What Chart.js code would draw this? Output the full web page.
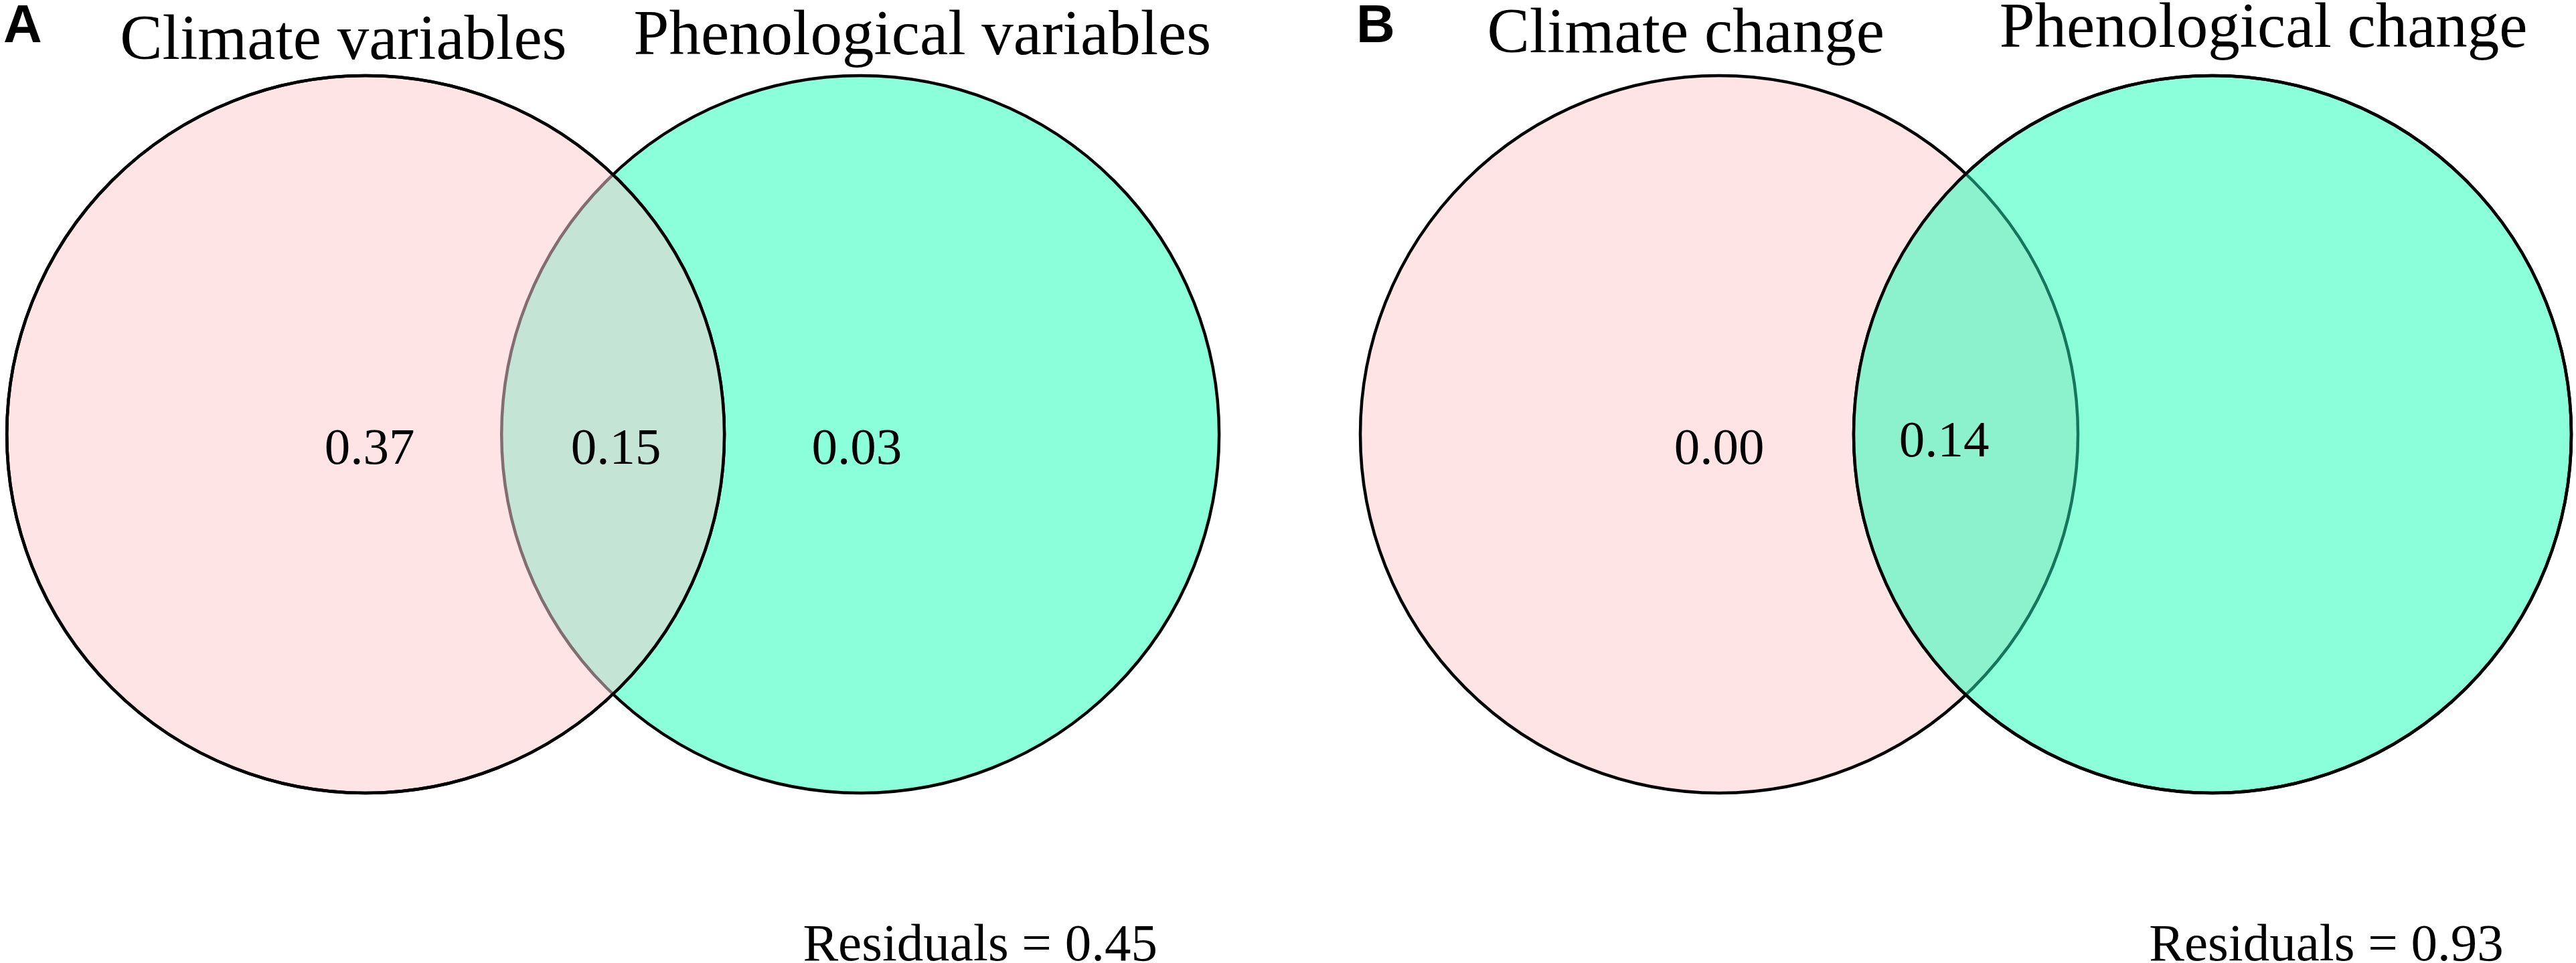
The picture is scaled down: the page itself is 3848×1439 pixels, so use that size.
<!DOCTYPE html>
<html>
<head>
<meta charset="utf-8">
<title>Venn diagrams</title>
<script src="https://cdn.jsdelivr.net/npm/chart.js@4.4.0/dist/chart.umd.min.js"></script>
<style>
  html, body { margin: 0; padding: 0; background: #fff; overflow: hidden; }
  .panel { position: absolute; top: 0; width: 1924px; height: 1439px; }
  #panelA { left: 0; }
  #panelB { left: 1924px; }
</style>
</head>
<body>
<div class="panel" id="panelA"><canvas id="chartA"></canvas></div>
<div class="panel" id="panelB"><canvas id="chartB"></canvas></div>

<script>
// ===== data =====
const panelLetters = ["A", "B"];
const setNamesA = ["Climate variables", "Phenological variables"];
const setNamesB = ["Climate change", "Phenological change"];
// regions: left only, shared, right only (null = not printed)
const regionValuesA = [0.37, 0.15, 0.03];
const regionValuesB = [0.0, 0.14, null];
const residualsA = 0.45;
const residualsB = 0.93;

// ===== layout (data units, 1 unit = circle radius) =====
const R = 1;
const layoutA = {
  xMin: -1.019, xMax: 2.571, yMin: -1.474, yMax: 1.211,
  centers: [[0, 0], [1.379, 0]],
  top: 0, // pink drawn over green
  titlePos: [[-0.062, 1.047], [1.552, 1.06]],
  labelPos: [[0.011, -0.082], [0.698, -0.082], [1.369, -0.082]],
  residualPos: [1.713, -1.466],
  overlapFill: "#c4e5d6",
  hiddenEdge: "rgb(128,110,112)",
};
const layoutB = {
  xMin: -1.2015, xMax: 2.388, yMin: -1.474, yMax: 1.211,
  centers: [[0, 0], [1.375, 0]],
  top: 1, // green drawn over pink
  titlePos: [[-0.093, 1.066], [1.517, 1.08]],
  labelPos: [[0, -0.082], [0.627, -0.0616], [1.375, -0.082]],
  residualPos: [1.692, -1.466],
  overlapFill: "#8cf2ce",
  hiddenEdge: "rgb(20,118,90)",
};

const fillColors = ["#ffe4e6", "#8bffda"];
const edgeWidth = 4.5;
const serif = '"Liberation Serif", "Times New Roman", serif';

// radius in pixels from the x scale
function radiusPx(ctx) {
  const s = ctx.chart.scales.x;
  return Math.abs(s.getPixelForValue(R) - s.getPixelForValue(0));
}

// lens of the two circles + edges hidden under the top circle
const vennOverlap = {
  id: "vennOverlap",
  afterDatasetsDraw(chart, args, opts) {
    const c = chart.ctx;
    const els = [0, 1].map((i) => chart.getDatasetMeta(i).data[0]);
    const top = els[opts.top];
    const bottom = els[1 - opts.top];
    c.save();
    c.beginPath();
    c.arc(top.x, top.y, top.options.radius, 0, Math.PI * 2);
    c.clip();
    c.beginPath();
    c.arc(bottom.x, bottom.y, bottom.options.radius, 0, Math.PI * 2);
    c.fillStyle = opts.fill;
    c.fill();
    c.lineWidth = edgeWidth;
    c.strokeStyle = opts.hiddenEdge;
    c.stroke();
    c.restore();
    // edge of top circle again
    c.save();
    c.beginPath();
    c.arc(top.x, top.y, top.options.radius, 0, Math.PI * 2);
    c.lineWidth = edgeWidth;
    c.strokeStyle = "#000";
    c.stroke();
    c.restore();
  },
};

// titles, region values, residuals, panel letter
const vennText = {
  id: "vennText",
  afterDraw(chart, args, opts) {
    const c = chart.ctx;
    const xs = chart.scales.x;
    const ys = chart.scales.y;
    const px = (p) => [xs.getPixelForValue(p[0]), ys.getPixelForValue(p[1])];
    c.save();
    c.fillStyle = "#000";
    c.textAlign = "center";
    c.textBaseline = "alphabetic";

    c.font = "95px " + serif;
    opts.names.forEach((n, i) => {
      const [x, y] = px(opts.layout.titlePos[i]);
      c.fillText(n, x, y);
    });

    c.font = "77px " + serif;
    opts.values.forEach((v, i) => {
      if (v === null) return;
      const [x, y] = px(opts.layout.labelPos[i]);
      c.fillText(v.toFixed(2), x, y);
    });

    c.font = "79px " + serif;
    const [rx, ry] = px(opts.layout.residualPos);
    c.fillText("Residuals = " + opts.residuals.toFixed(2), rx, ry);

    c.font = 'bold 80px "Liberation Sans", Arial, sans-serif';
    c.textAlign = "left";
    c.fillText(opts.letter, opts.letterX, 63);
    c.restore();
  },
};

function makeVenn(canvasId, names, values, residuals, letter, letterX, layout) {
  const datasets = layout.centers.map((cxy, i) => ({
    label: names[i],
    data: [{ x: cxy[0], y: cxy[1] }],
    backgroundColor: fillColors[i],
    borderColor: "#000",
    borderWidth: edgeWidth,
    pointStyle: "circle",
    pointRadius: radiusPx,
    pointHoverRadius: radiusPx,
    // top circle gets the lower order so it is drawn last
    order: i === layout.top ? 0 : 1,
    clip: false,
  }));

  return new Chart(document.getElementById(canvasId), {
    type: "scatter",
    data: { datasets },
    options: {
      responsive: true,
      maintainAspectRatio: false,
      animation: false,
      events: [],
      layout: { padding: 0 },
      scales: {
        x: { type: "linear", display: false, min: layout.xMin, max: layout.xMax },
        y: { type: "linear", display: false, min: layout.yMin, max: layout.yMax },
      },
      plugins: {
        legend: { display: false },
        tooltip: { enabled: false },
        vennOverlap: { top: layout.top, fill: layout.overlapFill, hiddenEdge: layout.hiddenEdge },
        vennText: { names, values, residuals, letter, letterX, layout },
      },
    },
    plugins: [vennOverlap, vennText],
  });
}

makeVenn("chartA", setNamesA, regionValuesA, residualsA, panelLetters[0], 5, layoutA);
makeVenn("chartB", setNamesB, regionValuesB, residualsB, panelLetters[1], 102, layoutB);
</script>
</body>
</html>
